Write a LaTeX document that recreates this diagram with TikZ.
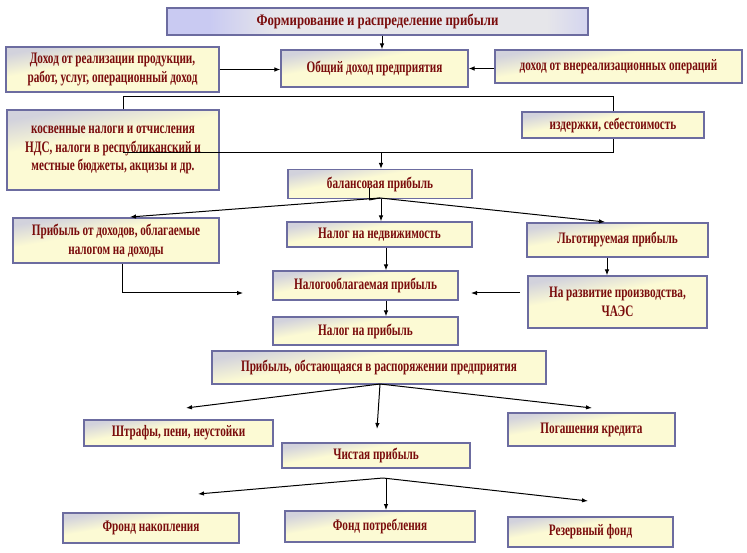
\documentclass[tikz,border=0pt]{standalone}
\usepackage{fontspec}
\setmainfont{Liberation Serif}[FakeStretch=0.7]
\newfontfamily\titlefont{Liberation Serif}[FakeStretch=0.8]
\usetikzlibrary{arrows.meta}
\definecolor{bxY}{HTML}{FCFAD4}
\definecolor{bxG}{HTML}{D2D2DC}
\definecolor{bord}{HTML}{6C6CA0}
\definecolor{tred}{HTML}{7A0C0C}
\definecolor{lavA}{HTML}{C9CAF2}
\definecolor{lavB}{HTML}{E6E6EA}
\pgfdeclareverticalshading{boxsh}{100bp}{color(0bp)=(bxG); color(14bp)=(bxY); color(45bp)=(bxY); color(58bp)=(bxY); color(74bp)=(bxG); color(100bp)=(bxG)}
\pgfdeclarehorizontalshading{titlesh}{100bp}{color(0bp)=(lavA); color(30bp)=(lavA); color(38bp)=(lavB); color(70bp)=(lavB); color(78bp)=(lavA); color(100bp)=(lavA)}
\tikzset{
  box/.style={draw=bord, line width=1.1pt, shading=boxsh, shading angle=10,
    text=tred, font=\fontsize{16}{18.5}\selectfont\bfseries, align=center, inner sep=0pt},
  titlebox/.style={draw=bord, line width=1.2pt, shading=titlesh,
    text=tred, font=\titlefont\fontsize{16}{18.5}\selectfont\bfseries, align=center, inner sep=0pt},
  ln/.style={draw=black, line width=1pt},
  arr/.style={ln, -{Latex[length=6pt,width=4.5pt]}}
}
\begin{document}
\begin{tikzpicture}[x=1pt,y=-1pt]
\useasboundingbox[fill=white] (0,0) rectangle (747,553);
% nodes
\node[titlebox, minimum width=421pt, minimum height=27pt] (title) at (377.5,21.5) {Формирование и распределение прибыли};
\node[box, minimum width=213pt, minimum height=45pt] (income) at (112.5,69.5) {Доход от реализации продукции,\\работ, услуг, операционный доход};
\node[box, minimum width=187pt, minimum height=37pt] (total) at (374.5,68.5) {Общий доход предприятия};
\node[box, minimum width=247pt, minimum height=33pt] (nonop) at (618.5,66.5) {доход от внереализационных операций};
\node[box, minimum width=212pt, minimum height=80pt] (indirect) at (113,150) {косвенные налоги и отчисления\\НДС, налоги в республиканский и\\местные бюджеты, акцизы и др.};
\node[box, minimum width=182pt, minimum height=26pt] (costs) at (613,125) {издержки, себестоимость};
\node[box, minimum width=184pt, minimum height=29pt] (balance) at (380,184) {балансовая прибыль};
\node[box, minimum width=206pt, minimum height=45pt] (fromInc) at (116,240.5) {Прибыль от доходов, облагаемые\\налогом на доходы};
\node[box, minimum width=185pt, minimum height=25pt] (realty) at (379.5,234.5) {Налог на недвижимость};
\node[box, minimum width=181pt, minimum height=34pt] (pref) at (617.5,240) {Льготируемая прибыль};
\node[box, minimum width=179pt, minimum height=52pt] (devel) at (617.5,302) {На развитие производства,\\ЧАЭС};
\node[box, minimum width=185pt, minimum height=29pt] (taxable) at (365.5,285.5) {Налогооблагаемая прибыль};
\node[box, minimum width=185pt, minimum height=28pt] (proftax) at (365.5,331) {Налог на прибыль};
\node[box, minimum width=334pt, minimum height=33pt] (retained) at (379,367.5) {Прибыль, обстающаяся в распоряжении предприятия};
\node[box, minimum width=189pt, minimum height=26pt] (fines) at (178.5,433) {Штрафы, пени, неустойки};
\node[box, minimum width=167pt, minimum height=33pt] (loan) at (591.5,429.5) {Погашения кредита};
\node[box, minimum width=188pt, minimum height=25pt] (net) at (376,455.5) {Чистая прибыль};
\node[box, minimum width=176pt, minimum height=30pt] (accum) at (151,528) {Фронд накопления};
\node[box, minimum width=190pt, minimum height=31pt] (consum) at (380,526.5) {Фонд потребления};
\node[box, minimum width=165pt, minimum height=30pt] (reserve) at (590.5,532) {Резервный фонд};
% helper coordinates
\coordinate (tA) at (382,0);
\coordinate (bL) at (123,97);
\coordinate (bR) at (613,97);
\coordinate (cL) at (123,153);
\coordinate (cR) at (613,153);
\coordinate (cM) at (381,153);
\coordinate (bv1) at (369,188);
\coordinate (bv2) at (369,200);
\coordinate (f0) at (380,198);
\coordinate (fT1) at (130,217);
\coordinate (fT2) at (605,222);
\coordinate (fD) at (381,0);
\coordinate (pD) at (607,0);
\coordinate (d1) at (520,293);
\coordinate (d2) at (471,293);
\coordinate (vx) at (386,0);
\coordinate (g1) at (122,293);
\coordinate (g2) at (243,293);
\coordinate (r0) at (380,384);
\coordinate (rT1) at (186,408);
\coordinate (rT2) at (377,429);
\coordinate (rT3) at (592,408);
\coordinate (n0) at (383,478);
\coordinate (nD1) at (386,478);
\coordinate (nT1) at (198,494);
\coordinate (nT2) at (386,510);
\coordinate (nT3) at (588,501);
% connectors
\draw[arr] (title.south -| tA) -- (total.north -| tA);
\draw[arr] (income.east) -- (income.east -| total.west);
\draw[arr] ([yshift=-2pt]nonop.west) -- ([yshift=-2pt]nonop.west -| total.east);
\draw[ln] (bL |- indirect.north) -- (bL) -- (bR) -- (bR |- costs.north);
\draw[ln] (cL) -- (cR) -- (cR |- costs.south);
\draw[arr] (cM) -- (cM |- balance.north);
\draw[ln] (bv1) -- (bv2);
\draw[arr] (bv2) -- (f0) -- (fT2);
\draw[arr] (f0) -- (fT1);
\draw[arr] (balance.south -| fD) -- (realty.north -| fD);
\draw[arr] (pref.south -| pD) -- (devel.north -| pD);
\draw[arr] (d1) -- (d2);
\draw[arr] (realty.south -| vx) -- (taxable.north -| vx);
\draw[arr] (taxable.south -| vx) -- (proftax.north -| vx);
\draw[arr] (fromInc.south -| g1) -- (g1) -- (g2);
\draw[arr] (r0) -- (rT1);
\draw[arr] (r0) -- (rT2);
\draw[arr] (r0) -- (rT3);
\draw[arr] (n0) -- (nT1);
\draw[arr] (nD1) -- (nT2);
\draw[arr] (n0) -- (nT3);
\end{tikzpicture}
\end{document}
